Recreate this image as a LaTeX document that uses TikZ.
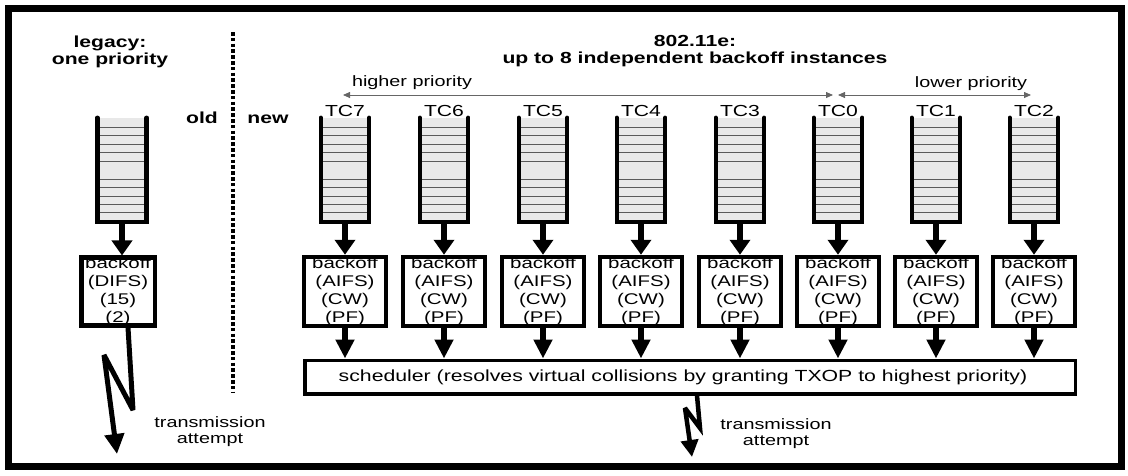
\documentclass[tikz,border=0pt]{standalone}
\usepackage{fontspec}
\setmainfont{Liberation Sans}[FakeStretch=1.32]
\usetikzlibrary{arrows.meta}
\definecolor{qfill}{gray}{0.91}
\begin{document}
\begin{tikzpicture}[x=1pt,y=-1pt,
  hd/.style={font=\fontsize{16}{17.5}\selectfont\bfseries, align=center, inner sep=0pt},
  bold/.style={font=\fontsize{16}{17.5}\selectfont\bfseries, inner sep=0pt, anchor=base},
  tc/.style={font=\fontsize{16}{18}\selectfont, inner sep=0pt, anchor=base},
  note/.style={font=\fontsize{15}{16}\selectfont, inner sep=0pt, align=center},
  queue/.style={fill=qfill, minimum width=48pt, minimum height=104pt, inner sep=0pt},
  wall/.style={line width=4.5pt, line cap=round, line join=miter},
  slot/.style={line width=1.3pt, black!65},
  boff/.style={draw, line width=4.5pt, minimum width=82pt, minimum height=69pt, inner sep=0pt, align=center, font=\fontsize{15.5}{17.7}\selectfont},
  feed/.style={line width=6.5pt, -{Triangle[width=20pt,length=15pt]}},
  outarr/.style={line width=6pt, -{Triangle[width=18pt,length=19pt]}},
  bolt/.style={line width=5pt, line join=miter, miter limit=4, -{Triangle[width=19pt,length=20pt]}},
  prio/.style={line width=0.8pt, black!60, {Triangle[width=6pt,length=7pt]}-{Triangle[width=6pt,length=7pt]}}
]
\useasboundingbox (0,0) rectangle (1128,475);
% frame and separator
\draw[line width=7pt] (8,8) rectangle (1121,466);
\draw[line width=4pt, dash pattern=on 3.5pt off 2.3pt] (233,32) -- (233,393);

% headings
\node[hd] (leg) at (110,51.8) {legacy:\\one priority};
\node[hd] (enh) at (695,51.3) {802.11e:\\up to 8 independent backoff instances};
\node[bold] (old) at (202,123) {old};
\node[bold] (new) at (268,123) {new};

% priority arrows
\node[note, anchor=base] (hp) at (412,86) {higher priority};
\node[note, anchor=base] (lp) at (971,87) {lower priority};
\coordinate (pa) at (343,95);
\coordinate (pb) at (833,95);
\coordinate (pc) at (838,95);
\coordinate (pd) at (1031,95);
\draw[prio] (pa) -- (pb);
\draw[prio] (pc) -- (pd);

% scheduler
\node[draw, line width=3.5pt, minimum width=770.5pt, minimum height=33.5pt, inner sep=0pt,
      font=\fontsize{16.1}{18}\selectfont] (sched) at (690,377)
      {scheduler (resolves virtual collisions by granting TXOP to highest priority)\hspace*{14pt}};

% legacy queue
\node[queue, minimum width=49pt] (lq) at (122,170) {};
\foreach \d in {10,18,27,35,44,62,70,79,87,95}
  \draw[slot] ([yshift=-\d pt]lq.north west) -- ([yshift=-\d pt]lq.north east);
\draw[wall] (lq.north west) -- (lq.south west) -- (lq.south east) -- (lq.north east);
\node[boff, minimum width=73.5pt, minimum height=66.5pt] (lb) at (118,291.5) {backoff\\(DIFS)\\(15)\\(2)};
\draw[feed] (lq.south) -- (lq.south |- lb.north);

% 802.11e queues
\foreach \n/\x in {7/345,6/444,5/543,4/641,3/740,0/838,1/936,2/1034} {
  \node[queue] (q\n) at (\x,170) {};
  \foreach \d in {10,18,27,35,44,62,70,79,87,95}
    \draw[slot] ([yshift=-\d pt]q\n.north west) -- ([yshift=-\d pt]q\n.north east);
  \draw[wall] (q\n.north west) -- (q\n.south west) -- (q\n.south east) -- (q\n.north east);
  \node[tc] (t\n) at (\x,116.5) {TC\n};
  \node[boff] (b\n) at (\x,291.5) {backoff\\(AIFS)\\(CW)\\(PF)};
  \draw[feed] (q\n.south) -- (b\n.north);
  \draw[outarr] (b\n.south) -- (b\n.south |- sched.north);
}

% transmission attempts
\coordinate (ltip) at (117,454);
\draw[bolt] ([xshift=10pt]lb.south) -- (133,410) -- (104,355) -- (ltip);
\node[note] (ta1) at (210,432) {transmission\\attempt};

\coordinate (stip) at (692,457);
\draw[bolt, line width=4.5pt, -{Triangle[width=17pt,length=17pt]}]
  ([xshift=7pt]sched.south) -- (700,428) -- (685,408) -- (stip);
\node[note] (ta2) at (776,434) {transmission\\attempt};
\end{tikzpicture}
\end{document}
